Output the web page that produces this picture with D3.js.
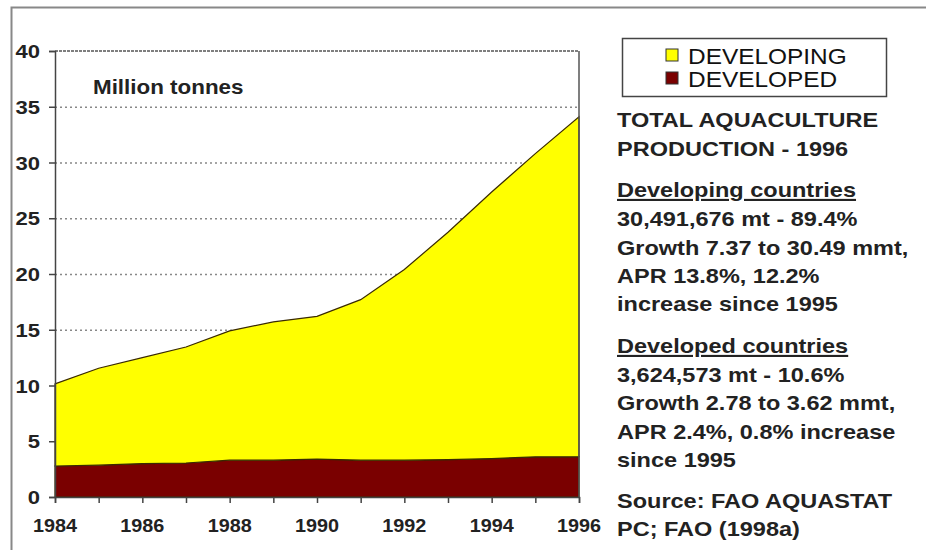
<!DOCTYPE html>
<html>
<head>
<meta charset="utf-8">
<script src="https://cdn.jsdelivr.net/npm/d3@7"></script>
<style>
  body { margin: 0; background: #fff; }
  svg { display: block; font-family: "Liberation Sans", Arial, sans-serif; }
</style>
</head>
<body>
<script>
// data (million tonnes)
const years = [1984, 1985, 1986, 1987, 1988, 1989, 1990, 1991, 1992, 1993, 1994, 1995, 1996];
const developed = [2.78, 2.85, 3.0, 3.05, 3.3, 3.3, 3.4, 3.3, 3.3, 3.35, 3.45, 3.6, 3.62];
const developing = [7.37, 8.7, 9.5, 10.4, 11.6, 12.4, 12.8, 14.4, 17.1, 20.4, 23.9, 27.2, 30.49];
const yTicks = [0, 5, 10, 15, 20, 25, 30, 35, 40];
const xLabels = [1984, 1986, 1988, 1990, 1992, 1994, 1996];
const seriesNames = ["DEVELOPING", "DEVELOPED"];
const seriesColors = ["#ffff00", "#7a0000"];

const notes = [
  { t: "TOTAL AQUACULTURE", y: 127 },
  { t: "PRODUCTION - 1996", y: 156 },
  { t: "Developing countries", y: 197, u: true },
  { t: "30,491,676 mt - 89.4%", y: 226 },
  { t: "Growth 7.37 to 30.49 mmt,", y: 255 },
  { t: "APR 13.8%, 12.2%", y: 283 },
  { t: "increase since 1995", y: 311 },
  { t: "Developed countries", y: 353, u: true },
  { t: "3,624,573 mt - 10.6%", y: 382 },
  { t: "Growth 2.78 to 3.62 mmt,", y: 410 },
  { t: "APR 2.4%, 0.8% increase", y: 439 },
  { t: "since 1995", y: 467 },
  { t: "Source: FAO AQUASTAT", y: 508 },
  { t: "PC; FAO (1998a)", y: 536 }
];

const W = 926, H = 550;
const SX = 1.12; // the original picture is a little stretched sideways
const svg = d3.select("body").append("svg").attr("width", W).attr("height", H);

// outer frame (only top and left visible)
svg.append("path").attr("d", "M11.5,550 V7.5 H926")
  .attr("fill", "none").attr("stroke", "#888").attr("stroke-width", 2);

const x = d3.scaleLinear().domain([1984, 1996]).range([55, 579]);
const y = d3.scaleLinear().domain([0, 40]).range([497, 51]);

const rows = years.map((yr, i) => ({ year: yr, developed: developed[i], developing: developing[i] }));
const stack = d3.stack().keys(["developed", "developing"])(rows);

const area = d3.area()
  .x(d => x(d.data.year))
  .y0(d => y(d[0]))
  .y1(d => y(d[1]));

// grid lines
svg.append("g").selectAll("line")
  .data(yTicks.filter(v => v > 0 && v < 40))
  .join("line")
    .attr("x1", x(1984)).attr("x2", x(1996))
    .attr("y1", d => y(d) + 0.5).attr("y2", d => y(d) + 0.5)
    .attr("stroke", "#888").attr("stroke-width", 1.5)
    .attr("stroke-dasharray", "2,3");

// areas
svg.append("g").selectAll("path")
  .data(stack)
  .join("path")
    .attr("d", area)
    .attr("fill", d => d.key === "developed" ? seriesColors[1] : seriesColors[0])
    .attr("stroke", "#3a2a00")
    .attr("stroke-width", 1.2);

// top border (dashed dark) and right border
svg.append("line")
  .attr("x1", x(1984)).attr("x2", x(1996))
  .attr("y1", y(40)).attr("y2", y(40))
  .attr("stroke", "#555").attr("stroke-width", 1.5).attr("stroke-dasharray", "3,1");
svg.append("line")
  .attr("x1", x(1996)).attr("x2", x(1996))
  .attr("y1", y(40)).attr("y2", y(0))
  .attr("stroke", "#555").attr("stroke-width", 1.5);

// y axis (lines from d3.axis, labels drawn separately)
const yAxis = svg.append("g")
  .attr("transform", `translate(${x(1984)},0)`)
  .call(d3.axisLeft(y).tickValues(yTicks).tickSize(6).tickFormat(""));
yAxis.select(".domain").attr("stroke", "#444").attr("stroke-width", 1.5);
yAxis.selectAll(".tick line").attr("stroke", "#444").attr("stroke-width", 1.5);

svg.append("g").selectAll("text")
  .data(yTicks)
  .join("text")
    .attr("transform", d => `translate(40,${y(d) + 7}) scale(1.16,1)`)
    .attr("text-anchor", "end")
    .attr("font-size", 19).attr("font-weight", "bold").attr("fill", "#222")
    .text(d => d);

// x axis
const xAxis = svg.append("g")
  .attr("transform", `translate(0,${y(0)})`)
  .call(d3.axisBottom(x).tickValues(years).tickSize(6).tickFormat(""));
xAxis.select(".domain").attr("stroke", "#444").attr("stroke-width", 1.5);
xAxis.selectAll(".tick line").attr("stroke", "#444").attr("stroke-width", 1.5);

svg.append("g").selectAll("text")
  .data(xLabels)
  .join("text")
    .attr("transform", d => `translate(${x(d)},${y(0) + 35}) scale(1.1,1)`)
    .attr("text-anchor", "middle")
    .attr("font-size", 18).attr("font-weight", "bold").attr("fill", "#222")
    .text(d => d);

// unit label
svg.append("text").attr("transform", `translate(93,94) scale(${SX},1)`)
  .attr("font-size", 20).attr("font-weight", "bold").attr("fill", "#222")
  .text("Million tonnes");

// legend
const lg = svg.append("g");
lg.append("rect").attr("x", 622.5).attr("y", 38.5).attr("width", 264).attr("height", 58)
  .attr("fill", "#fff").attr("stroke", "#444").attr("stroke-width", 1.5);
seriesNames.forEach((name, i) => {
  lg.append("rect").attr("x", 666).attr("y", 49 + i * 23).attr("width", 12).attr("height", 12)
    .attr("fill", seriesColors[i]).attr("stroke", "#333").attr("stroke-width", 1);
  lg.append("text").attr("transform", `translate(688,${64 + i * 23}) scale(1.11,1)`)
    .attr("font-size", 22).attr("fill", "#111").text(name);
});

// notes
svg.append("g").selectAll("text")
  .data(notes)
  .join("text")
    .attr("transform", d => `translate(617,${d.y}) scale(${SX},1)`)
    .attr("font-size", 21).attr("font-weight", "bold").attr("fill", "#222")
    .attr("text-decoration", d => d.u ? "underline" : null)
    .text(d => d.t);
</script>
</body>
</html>
